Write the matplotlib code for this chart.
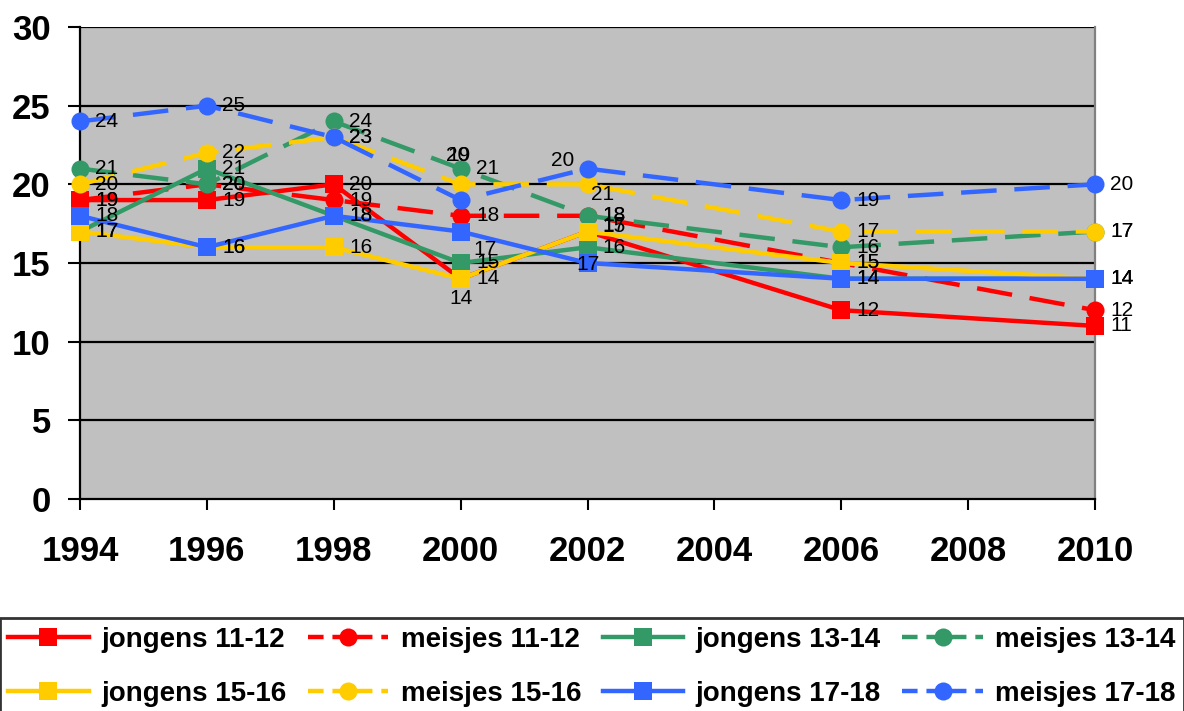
import matplotlib.pyplot as plt
from matplotlib.lines import Line2D

plt.rcParams["font.family"] = ["Liberation Sans", "DejaVu Sans"]

years = [1994, 1996, 1998, 2000, 2002, 2006, 2010]

jongens_11_12 = [19, 19, 20, 14, 17, 12, 11]
meisjes_11_12 = [19, 20, 19, 18, 18, 15, 12]
jongens_13_14 = [17, 21, 18, 15, 16, 14, 14]
meisjes_13_14 = [21, 20, 24, 21, 18, 16, 17]
jongens_15_16 = [17, 16, 16, 14, 17, 15, 14]
meisjes_15_16 = [20, 22, 23, 20, 20, 17, 17]
jongens_17_18 = [18, 16, 18, 17, 15, 14, 14]
meisjes_17_18 = [24, 25, 23, 19, 21, 19, 20]

series_names = [
    "jongens 11-12", "meisjes 11-12", "jongens 13-14", "meisjes 13-14",
    "jongens 15-16", "meisjes 15-16", "jongens 17-18", "meisjes 17-18",
]
series_values = [
    jongens_11_12, meisjes_11_12, jongens_13_14, meisjes_13_14,
    jongens_15_16, meisjes_15_16, jongens_17_18, meisjes_17_18,
]

RED = "#FF0000"
GREEN = "#339966"
YELLOW = "#FFCC00"
BLUE = "#3366FF"
colors = [RED, RED, GREEN, GREEN, YELLOW, YELLOW, BLUE, BLUE]

# label offsets in points for crowded spots: (series, index) -> (dx, dy, ha)
special = {
    (5, 3): (-2, 21, "center"),
    (7, 3): (-1, 32, "center"),
    (6, 3): (9, -13, "left"),
    (0, 3): (0, -14, "center"),
    (5, 4): (-18, 17, "center"),
    (7, 4): (11, -19, "center"),
    (0, 4): (0, -24, "center"),
    (4, 4): (11, 4, "left"),
    (6, 4): (11, 26, "left"),
}

fig = plt.figure(figsize=(11.84, 7.11), dpi=100)
ax = fig.add_axes([0.0676, 0.2982, 0.8572, 0.6638])
ax.set_facecolor("#C0C0C0")

dash = (0, (8, 4))
handles = []
for i, (name, vals, col) in enumerate(zip(series_names, series_values, colors)):
    girls = name.startswith("meisjes")
    ls = dash if girls else "-"
    mk = "o" if girls else "s"
    ax.plot(years, vals, color=col, linestyle=ls, linewidth=3.2, marker=mk,
            markersize=13, markeredgewidth=0, clip_on=False, zorder=3 + i * 0.1)
    handles.append(Line2D([], [], color=col, linestyle=(0, (3.5, 2)) if girls else "-",
                          linewidth=3.2, marker=mk, markersize=13, markeredgewidth=0))

for i, vals in enumerate(series_values):
    for j, (x, y) in enumerate(zip(years, vals)):
        dx, dy, ha = special.get((i, j), (11, 0, "left"))
        ax.annotate(str(y), (x, y), xytext=(dx, dy), textcoords="offset points",
                    ha=ha, va="center", fontsize=15, color="black",
                    zorder=10, annotation_clip=False)

ax.set_xlim(1994, 2010)
ax.set_ylim(0, 30)
ax.set_xticks(range(1994, 2011, 2))
ax.set_yticks(range(0, 31, 5))
for y in range(5, 31, 5):
    ax.axhline(y, color="black", linewidth=1.6, zorder=1)

for lbl in ax.get_xticklabels() + ax.get_yticklabels():
    lbl.set_fontweight("bold")
ax.tick_params(axis="x", labelsize=25, pad=18, length=8, width=1.5, direction="out")
ax.tick_params(axis="y", labelsize=25, pad=12, length=9, width=1.5, direction="out")

ax.spines["left"].set_color("black")
ax.spines["left"].set_linewidth(1.6)
ax.spines["bottom"].set_color("black")
ax.spines["bottom"].set_linewidth(1.6)
ax.spines["right"].set_color("#808080")
ax.spines["right"].set_linewidth(1.6)
ax.spines["top"].set_visible(False)

# legend is filled column by column, so reorder to get row-major layout
order = [0, 4, 1, 5, 2, 6, 3, 7]
leg = fig.legend([handles[k] for k in order], [series_names[k] for k in order],
                 loc="lower left", ncol=4,
                 bbox_to_anchor=(-0.012, -0.025, 1.024, 0.16), mode="expand",
                 prop={"weight": "bold", "size": 20}, handlelength=2.9,
                 handletextpad=0.45, columnspacing=0.4, labelspacing=1.0,
                 borderpad=0.3, frameon=True, fancybox=False)
leg.get_frame().set_edgecolor("black")
leg.get_frame().set_linewidth(2)

fig.savefig("out.png", dpi=100)
